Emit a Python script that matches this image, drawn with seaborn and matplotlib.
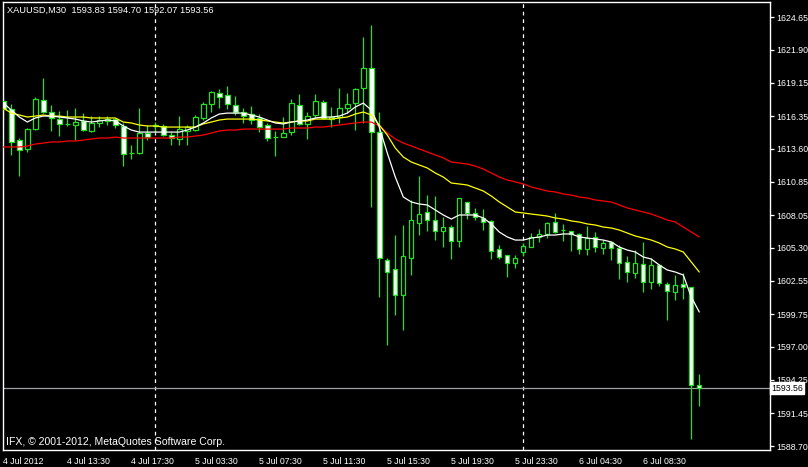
import matplotlib
matplotlib.use("Agg")
import matplotlib.pyplot as plt
import seaborn as sns
import pandas as pd

# XAUUSD M30 bars
opens = [1617.61, 1616.94, 1614.34, 1613.59, 1615.26, 1617.70, 1616.69, 1616.10, 1615.69, 1615.60,
         1615.94, 1615.10, 1615.77, 1615.94, 1616.10, 1615.52, 1613.22, 1613.25, 1614.93, 1615.52,
         1615.52, 1614.76, 1614.43, 1615.10, 1615.18, 1616.19, 1617.36, 1618.28, 1618.11, 1617.28,
         1616.69, 1616.52, 1616.19, 1615.60, 1614.57, 1614.59, 1615.01, 1617.28, 1615.69, 1616.44,
         1617.53, 1616.10, 1616.27, 1617.02, 1617.44, 1618.70, 1620.38, 1615.01, 1604.29, 1603.53,
         1601.35, 1604.45, 1607.39, 1608.31, 1607.64, 1606.72, 1607.05, 1605.88, 1609.15, 1608.23,
         1607.81, 1607.56, 1605.21, 1604.70, 1604.03, 1604.96, 1605.38, 1606.22, 1606.47, 1607.47,
         1606.80, 1606.72, 1606.47, 1605.21, 1606.22, 1605.29, 1605.80, 1605.29, 1604.12, 1603.20,
         1603.95, 1602.44, 1603.87, 1602.27, 1601.60, 1602.27, 1602.02, 1593.83]
highs = [1617.86, 1617.36, 1614.51, 1615.35, 1617.95, 1619.54, 1617.28, 1616.77, 1616.86, 1617.02,
         1616.60, 1616.35, 1616.35, 1616.35, 1616.19, 1615.77, 1613.92, 1617.02, 1615.60, 1615.85,
         1615.69, 1615.01, 1616.35, 1615.60, 1616.44, 1617.53, 1618.45, 1618.62, 1618.87, 1618.03,
         1617.02, 1617.19, 1616.52, 1615.77, 1615.10, 1616.27, 1617.78, 1618.20, 1616.69, 1618.20,
         1617.70, 1617.11, 1618.70, 1618.28, 1618.70, 1622.97, 1623.98, 1616.69, 1604.45, 1606.38,
         1607.22, 1609.32, 1611.33, 1609.73, 1609.65, 1607.89, 1607.22, 1609.48, 1609.15, 1608.65,
         1608.56, 1607.64, 1605.54, 1604.70, 1604.70, 1605.71, 1606.55, 1606.89, 1607.47, 1608.23,
         1607.31, 1606.72, 1606.55, 1607.14, 1606.63, 1605.96, 1605.88, 1605.54, 1604.62, 1605.12,
         1605.80, 1604.45, 1603.95, 1602.44, 1603.03, 1603.20, 1602.02, 1594.70]
lows = [1616.02, 1613.09, 1611.33, 1613.34, 1615.18, 1616.60, 1615.10, 1614.68, 1615.52, 1614.34,
        1615.10, 1615.01, 1615.43, 1615.60, 1615.35, 1612.16, 1612.75, 1613.17, 1614.34, 1614.93,
        1614.68, 1613.92, 1613.92, 1613.92, 1615.10, 1616.02, 1616.69, 1617.02, 1616.94, 1616.44,
        1615.77, 1615.69, 1615.01, 1614.26, 1613.00, 1614.59, 1614.76, 1615.60, 1614.43, 1616.19,
        1616.10, 1615.43, 1615.77, 1616.60, 1615.18, 1615.77, 1608.73, 1601.19, 1597.16, 1599.68,
        1598.42, 1603.03, 1606.38, 1606.72, 1605.96, 1605.38, 1604.37, 1605.38, 1607.72, 1607.64,
        1606.80, 1604.37, 1604.37, 1602.86, 1603.62, 1604.62, 1605.38, 1605.80, 1606.13, 1606.55,
        1605.88, 1605.04, 1604.79, 1604.70, 1604.96, 1604.79, 1604.29, 1602.69, 1602.44, 1602.78,
        1601.60, 1601.86, 1602.11, 1599.26, 1600.93, 1601.02, 1589.29, 1592.07]
closes = [1616.94, 1614.18, 1613.51, 1615.26, 1617.78, 1616.69, 1616.19, 1615.69, 1615.72, 1615.85,
          1615.18, 1615.77, 1616.02, 1616.10, 1615.60, 1613.17, 1613.28, 1614.93, 1614.59, 1615.60,
          1614.76, 1614.51, 1615.26, 1615.43, 1616.27, 1617.36, 1618.37, 1617.95, 1617.36, 1616.69,
          1616.35, 1616.02, 1615.43, 1614.51, 1614.61, 1614.93, 1617.44, 1615.69, 1616.35, 1617.61,
          1616.19, 1616.27, 1617.02, 1617.36, 1618.62, 1620.38, 1615.01, 1604.45, 1603.28, 1601.35,
          1604.62, 1607.64, 1608.14, 1607.64, 1606.72, 1607.05, 1605.88, 1609.48, 1608.23, 1607.89,
          1607.47, 1605.04, 1604.54, 1604.03, 1604.45, 1605.46, 1606.22, 1606.47, 1607.39, 1606.63,
          1606.84, 1606.47, 1605.21, 1606.13, 1605.38, 1605.71, 1605.29, 1604.03, 1603.28, 1604.03,
          1602.44, 1603.87, 1602.36, 1601.69, 1602.19, 1602.02, 1593.80, 1593.56]

# moving averages (white fast, yellow medium, red slow)
ma_fast = [1617.44, 1616.86, 1616.27, 1615.85, 1616.19, 1616.35, 1616.35, 1616.27, 1616.19, 1616.10,
           1615.94, 1615.85, 1615.94, 1616.02, 1615.94, 1615.52, 1615.18, 1615.01, 1615.01, 1615.01,
           1615.01, 1615.01, 1615.01, 1615.18, 1615.43, 1615.77, 1616.19, 1616.52, 1616.60, 1616.60,
           1616.60, 1616.44, 1616.27, 1616.02, 1615.77, 1615.69, 1615.85, 1615.94, 1616.02, 1616.19,
           1616.27, 1616.27, 1616.35, 1616.60, 1617.11, 1617.44, 1616.86, 1615.43, 1613.25, 1611.24,
           1609.57, 1609.15, 1608.98, 1608.90, 1608.48, 1608.06, 1607.72, 1608.06, 1608.06, 1608.06,
           1607.81, 1607.31, 1606.63, 1606.22, 1605.96, 1605.96, 1606.13, 1606.22, 1606.38, 1606.38,
           1606.47, 1606.47, 1606.22, 1606.13, 1606.05, 1605.96, 1605.80, 1605.38, 1605.12, 1604.96,
           1604.54, 1604.37, 1603.87, 1603.45, 1603.28, 1603.03, 1601.19, 1599.93]
ma_mid = [1617.02, 1616.60, 1616.44, 1616.27, 1616.35, 1616.44, 1616.35, 1616.35, 1616.27, 1616.27,
          1616.27, 1616.19, 1616.19, 1616.19, 1616.19, 1615.85, 1615.77, 1615.60, 1615.52, 1615.52,
          1615.43, 1615.43, 1615.43, 1615.43, 1615.43, 1615.69, 1615.85, 1616.02, 1616.10, 1616.10,
          1616.10, 1616.10, 1616.02, 1615.94, 1615.85, 1615.77, 1615.85, 1615.94, 1615.94, 1616.10,
          1616.10, 1616.10, 1616.19, 1616.27, 1616.52, 1616.69, 1616.44, 1615.60, 1614.76, 1613.67,
          1612.92, 1612.50, 1612.25, 1612.00, 1611.58, 1611.24, 1610.74, 1610.66, 1610.57, 1610.32,
          1610.07, 1609.65, 1609.15, 1608.73, 1608.31, 1608.23, 1608.14, 1608.06, 1607.97, 1607.81,
          1607.72, 1607.56, 1607.47, 1607.31, 1607.22, 1607.05, 1606.97, 1606.80, 1606.55, 1606.30,
          1606.13, 1605.96, 1605.71, 1605.38, 1605.21, 1604.96, 1604.12, 1603.28]
ma_slow = [1613.76, 1613.76, 1613.76, 1613.84, 1614.01, 1614.09, 1614.18, 1614.18, 1614.26, 1614.26,
           1614.34, 1614.43, 1614.51, 1614.51, 1614.59, 1614.51, 1614.51, 1614.51, 1614.51, 1614.51,
           1614.51, 1614.51, 1614.59, 1614.59, 1614.68, 1614.76, 1614.93, 1615.10, 1615.18, 1615.18,
           1615.26, 1615.26, 1615.26, 1615.26, 1615.26, 1615.26, 1615.35, 1615.35, 1615.35, 1615.43,
           1615.43, 1615.52, 1615.60, 1615.69, 1615.77, 1615.85, 1615.85, 1615.52, 1614.93, 1614.43,
           1614.09, 1613.84, 1613.59, 1613.34, 1613.09, 1612.84, 1612.50, 1612.42, 1612.33, 1612.16,
           1611.91, 1611.58, 1611.24, 1610.99, 1610.83, 1610.66, 1610.40, 1610.24, 1610.07, 1609.99,
           1609.82, 1609.73, 1609.57, 1609.48, 1609.32, 1609.23, 1609.15, 1608.90, 1608.65, 1608.48,
           1608.31, 1608.14, 1607.89, 1607.64, 1607.47, 1607.05, 1606.63, 1606.22]

price_ticks = [1624.65, 1621.90, 1619.15, 1616.35, 1613.60, 1610.85, 1608.05, 1605.30,
               1602.55, 1599.75, 1597.00, 1594.25, 1591.45, 1588.70]
time_labels = ["4 Jul 2012", "4 Jul 13:30", "4 Jul 17:30", "5 Jul 03:30", "5 Jul 07:30",
               "5 Jul 11:30", "5 Jul 15:30", "5 Jul 19:30", "5 Jul 23:30", "6 Jul 04:30",
               "6 Jul 08:30"]
separators = [19, 65]
bid = 1593.56
title = "XAUUSD,M30  1593.83 1594.70 1592.07 1593.56"
footer = "IFX, \u00a9 2001-2012, MetaQuotes Software Corp."

df = pd.DataFrame({"bar": range(len(opens)), "open": opens, "high": highs,
                   "low": lows, "close": closes,
                   "fast": ma_fast, "mid": ma_mid, "slow": ma_slow})

sns.set_style("dark", {"axes.facecolor": "black", "figure.facecolor": "black",
                       "axes.edgecolor": "white", "grid.color": "black"})
plt.rcParams["font.family"] = ["Liberation Sans", "DejaVu Sans"]
fs = 6.3

GREEN = "#22e022"
W, H = 808, 467
fig = plt.figure(figsize=(W / 100, H / 100), dpi=100)
fig.patch.set_facecolor("black")
ax = fig.add_axes([3 / W, 17 / H, 767 / W, 448 / H])
ax.set_facecolor("black")

# wicks
ax.vlines(df["bar"], df["low"], df["high"], color=GREEN, lw=0.9, zorder=2)
# bodies: bull hollow (black), bear white
up = df["close"] >= df["open"]
fill = ["black" if u else "white" for u in up]
ax.bar(df["bar"], df["close"] - df["open"], bottom=df["open"], width=0.55,
       color=fill, edgecolor=GREEN, linewidth=0.9, zorder=3)

sns.lineplot(data=df, x="bar", y="slow", color="#ff0000", lw=0.9, ax=ax, zorder=4)
sns.lineplot(data=df, x="bar", y="mid", color="#ffff00", lw=0.9, ax=ax, zorder=4)
sns.lineplot(data=df, x="bar", y="fast", color="white", lw=0.9, ax=ax, zorder=4)

for s in separators:
    ax.axvline(s, color="white", lw=0.9, ls=(0, (3, 3)), zorder=1)
ax.axhline(bid, color="#a0a0a8", lw=0.9, zorder=1)

ax.set_xlim(-0.04, 95.84)
ax.set_ylim(1588.365, 1625.91)
ax.grid(False)
ax.set_xlabel("")
ax.set_ylabel("")
for sp in ax.spines.values():
    sp.set_color("white")
    sp.set_linewidth(1)

ax.yaxis.tick_right()
ax.set_yticks(price_ticks)
ax.set_yticklabels([f"{p:.2f}" for p in price_ticks])
ax.tick_params(axis="y", colors="white", length=3, width=0.9, pad=1.5, labelsize=fs)
ax.set_xticks(range(0, 8 * len(time_labels), 8))
ax.set_xticklabels(time_labels, ha="left")
ax.tick_params(axis="x", colors="white", length=4, width=0.9, pad=1, labelsize=fs)

ax.text(1.0015, bid, f"{bid:.2f}", transform=ax.get_yaxis_transform(), color="black",
        fontsize=fs, va="center", ha="left", zorder=10, clip_on=False,
        bbox=dict(boxstyle="square,pad=0.15", facecolor="white", edgecolor="white"))

fig.text(7 / W, 1 - 10 / H, title, color="white", fontsize=6.7, va="center", ha="left")
fig.text(6 / W, 1 - 442 / H, footer, color="white", fontsize=7.6, va="center", ha="left")

fig.savefig("out.png", dpi=100, facecolor="black")
